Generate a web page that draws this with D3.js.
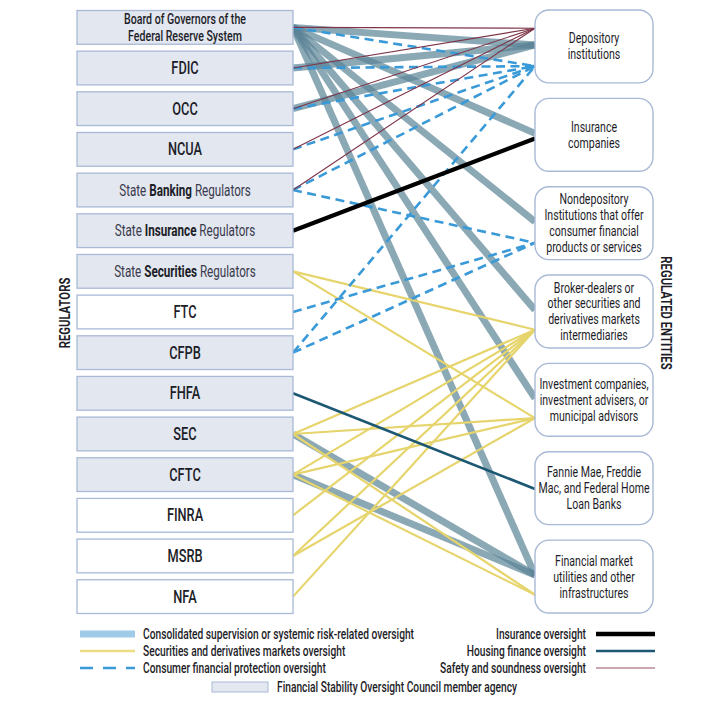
<!DOCTYPE html>
<html>
<head>
<meta charset="utf-8">
<script src="https://cdn.jsdelivr.net/npm/d3@7"></script>
<style>
  html, body { margin: 0; padding: 0; background: #fff; }
  svg { display: block; }
</style>
</head>
<body>
<div id="chart"></div>
<script>
// ---------------- DATA ----------------
const regulators = [
  "Board of Governors of the Federal Reserve System", "FDIC", "OCC", "NCUA",
  "State Banking Regulators", "State Insurance Regulators", "State Securities Regulators",
  "FTC", "CFPB", "FHFA", "SEC", "CFTC", "FINRA", "MSRB", "NFA"
];
const boardLines = ["Board of Governors of the", "Federal Reserve System"];
const fsocMembers = [
  "Board of Governors of the Federal Reserve System", "FDIC", "OCC", "NCUA",
  "State Banking Regulators", "State Insurance Regulators", "State Securities Regulators",
  "CFPB", "FHFA", "SEC", "CFTC"
];
const entities = ["Depository", "Insurance", "Nondepository", "Broker", "Investment", "GSE", "FMU"];
const entityLabels = [
  ["Depository", "institutions"],
  ["Insurance", "companies"],
  ["Nondepository", "Institutions that offer", "consumer financial", "products or services"],
  ["Broker-dealers or", "other securities and", "derivatives markets", "intermediaries"],
  ["Investment companies,", "investment advisers, or", "municipal advisors"],
  ["Fannie Mae, Freddie", "Mac, and Federal Home", "Loan Banks"],
  ["Financial market", "utilities and other", "infrastructures"]
];
const BOARD = regulators[0];
// oversight links: [regulator, entity]
const consolidatedLinks = [
  [BOARD, "Depository"], [BOARD, "Insurance"], [BOARD, "Nondepository"], [BOARD, "Broker"],
  [BOARD, "Investment"], [BOARD, "FMU"], ["FDIC", "Depository"], ["OCC", "Depository"],
  ["SEC", "FMU"], ["CFTC", "FMU"]
];
const securitiesLinks = [
  ["State Securities Regulators", "Broker"], ["State Securities Regulators", "Investment"],
  ["SEC", "Broker"], ["SEC", "Investment"], ["SEC", "FMU"],
  ["CFTC", "Broker"], ["CFTC", "Investment"], ["CFTC", "FMU"],
  ["FINRA", "Broker"], ["MSRB", "Broker"], ["MSRB", "Investment"], ["NFA", "Broker"]
];
const consumerLinks = [
  [BOARD, "Depository"], ["FDIC", "Depository"], ["OCC", "Depository"], ["NCUA", "Depository"],
  ["State Banking Regulators", "Depository"], ["CFPB", "Depository"],
  ["State Banking Regulators", "Nondepository"], ["FTC", "Nondepository"], ["CFPB", "Nondepository"]
];
const safetyLinks = [
  [BOARD, "Depository"], ["FDIC", "Depository"], ["OCC", "Depository"], ["NCUA", "Depository"],
  ["State Banking Regulators", "Depository"]
];
const insuranceLinks = [["State Insurance Regulators", "Insurance"]];
const housingLinks = [["FHFA", "GSE"]];

const legendLeft = [
  "Consolidated supervision or systemic risk-related oversight",
  "Securities and derivatives markets oversight",
  "Consumer financial protection oversight"
];
const legendRight = ["Insurance oversight", "Housing finance oversight", "Safety and soundness oversight"];
const legendFsoc = "Financial Stability Oversight Council member agency";

// ---------------- SETUP ----------------
const W = 701, H = 720;
const FONT = "Roboto, 'Liberation Sans', Arial, sans-serif";
const SX = 0.73;              // horizontal condensation for the condensed typeface look
const TXT = "#1d1d28";

const svg = d3.select("#chart").append("svg").attr("width", W).attr("height", H)
  .style("background", "#fff");

const leftX0 = 77, leftX1 = 293, rightX0 = 535, rightX1 = 653;
const yL = d3.scaleBand().domain(regulators).range([10.5, 613.5]).paddingInner(0.17);
const yR = d3.scaleBand().domain(entities).range([10, 613]).paddingInner(0.175);

function ctext(sel, x, y, opts = {}) {
  return sel.append("text")
    .attr("transform", `translate(${x},${y}) scale(${SX},1)`)
    .attr("font-family", FONT)
    .attr("font-size", opts.size || 14)
    .attr("font-weight", opts.weight || 400)
    .attr("text-anchor", opts.anchor || "middle")
    .attr("fill", opts.fill || TXT);
}

// link styles
const linkTypes = [
  {links: consolidatedLinks, frac: 0.48, stroke: "#5a8396", width: 7, opacity: 0.7},
  {links: securitiesLinks, frac: 0.75, stroke: "#e6d46c", width: 2.2, opacity: 1},
  {links: consumerLinks, frac: 0.77, stroke: "#3a9ad8", width: 2.6, opacity: 1, dash: "9,5.5"},
  {links: safetyLinks, frac: 0.25, stroke: "#7d3448", width: 1.1, opacity: 1},
  {links: insuranceLinks, frac: 0.55, stroke: "#000", width: 4.2, opacity: 1},
  {links: housingLinks, frac: 0.51, stroke: "#1c5873", width: 2.6, opacity: 1}
];

const linkG = svg.append("g");
linkTypes.forEach(t => {
  linkG.append("g").selectAll("line").data(t.links).join("line")
    .attr("x1", leftX1)
    .attr("y1", d => yL(d[0]) + yL.bandwidth() / 2)
    .attr("x2", rightX0)
    .attr("y2", d => yR(d[1]) + yR.bandwidth() * t.frac)
    .attr("stroke", t.stroke)
    .attr("stroke-width", t.width)
    .attr("stroke-opacity", t.opacity)
    .attr("stroke-dasharray", t.dash || null);
});

// ---------------- REGULATOR BOXES ----------------
const regG = svg.append("g").selectAll("g").data(regulators).join("g");
regG.append("rect")
  .attr("x", leftX0).attr("y", d => yL(d))
  .attr("width", leftX1 - leftX0).attr("height", yL.bandwidth())
  .attr("fill", d => fsocMembers.includes(d) ? "#e2e7f0" : "#fff")
  .attr("stroke", "#a9b9d6").attr("stroke-width", 1.3);

const cx = (leftX0 + leftX1) / 2;
regG.each(function(d) {
  const g = d3.select(this);
  const cy = yL(d) + yL.bandwidth() / 2;
  if (d === BOARD) {
    const t = ctext(g, cx, cy - 8 + 5, {size: 14.5, weight: 500});
    boardLines.forEach((ln, i) => t.append("tspan").attr("x", 0).attr("dy", i ? 16.5 : 0).text(ln));
  } else if (/^State /.test(d)) {
    const m = d.match(/^(State )(\S+)( Regulators)$/);
    const t = ctext(g, cx, cy + 5.5, {size: 16, weight: 400, fill: "#3a3a4c"});
    t.append("tspan").text(m[1]);
    t.append("tspan").attr("font-weight", 700).attr("fill", TXT).text(m[2]);
    t.append("tspan").text(m[3]);
  } else {
    ctext(g, cx, cy + 6, {size: 17.5, weight: 500}).text(d);
  }
});

// ---------------- ENTITY BOXES ----------------
const entG = svg.append("g").selectAll("g").data(entities).join("g");
entG.append("rect")
  .attr("x", rightX0).attr("y", d => yR(d))
  .attr("width", rightX1 - rightX0).attr("height", yR.bandwidth())
  .attr("rx", 14).attr("ry", 14)
  .attr("fill", "#fff").attr("stroke", "#a9b9d6").attr("stroke-width", 1.4);
entG.each(function(d, i) {
  const g = d3.select(this);
  const lines = entityLabels[i];
  const lh = 16;
  const cy = yR(d) + yR.bandwidth() / 2;
  const top = cy - (lines.length - 1) * lh / 2 + 5;
  const t = ctext(g, (rightX0 + rightX1) / 2, top, {size: 14.5, weight: 400});
  lines.forEach((ln, k) => t.append("tspan").attr("x", 0).attr("dy", k ? lh : 0).text(ln));
});

// ---------------- SIDE TITLES ----------------
svg.append("text")
  .attr("transform", `translate(70,313) rotate(-90) scale(${SX},1)`)
  .attr("font-family", FONT).attr("font-size", 15.5).attr("font-weight", 700)
  .attr("text-anchor", "middle").attr("fill", TXT).text("REGULATORS");
svg.append("text")
  .attr("transform", `translate(661,313) rotate(90) scale(${SX},1)`)
  .attr("font-family", FONT).attr("font-size", 15.5).attr("font-weight", 700)
  .attr("text-anchor", "middle").attr("fill", TXT).text("REGULATED ENTITIES");

// ---------------- LEGEND ----------------
const lg = svg.append("g");
const rowY = [634, 651, 668];
const leftSw = [
  {stroke: "#9fcbe8", width: 7},
  {stroke: "#ecdc84", width: 2.4},
  {stroke: "#3a9ad8", width: 2.6, dash: "13,10"}
];
const rightSw = [
  {stroke: "#000", width: 4.5},
  {stroke: "#1c5873", width: 2.6},
  {stroke: "#b88993", width: 1.6}
];
legendLeft.forEach((lab, i) => {
  lg.append("line").attr("x1", 80).attr("x2", 135).attr("y1", rowY[i]).attr("y2", rowY[i])
    .attr("stroke", leftSw[i].stroke).attr("stroke-width", leftSw[i].width)
    .attr("stroke-dasharray", leftSw[i].dash || null);
  ctext(lg, 143, rowY[i] + 4.8, {size: 14, weight: 500, anchor: "start"}).text(lab);
});
legendRight.forEach((lab, i) => {
  lg.append("line").attr("x1", 596).attr("x2", 655).attr("y1", rowY[i]).attr("y2", rowY[i])
    .attr("stroke", rightSw[i].stroke).attr("stroke-width", rightSw[i].width);
  ctext(lg, 586, rowY[i] + 4.8, {size: 14, weight: 500, anchor: "end"}).text(lab);
});
lg.append("rect").attr("x", 212).attr("y", 682).attr("width", 56).attr("height", 10)
  .attr("fill", "#e2e7f0").attr("stroke", "#a9b9d6").attr("stroke-width", 1);
ctext(lg, 277, 691.8, {size: 14, weight: 500, anchor: "start"}).text(legendFsoc);
</script>
</body>
</html>
